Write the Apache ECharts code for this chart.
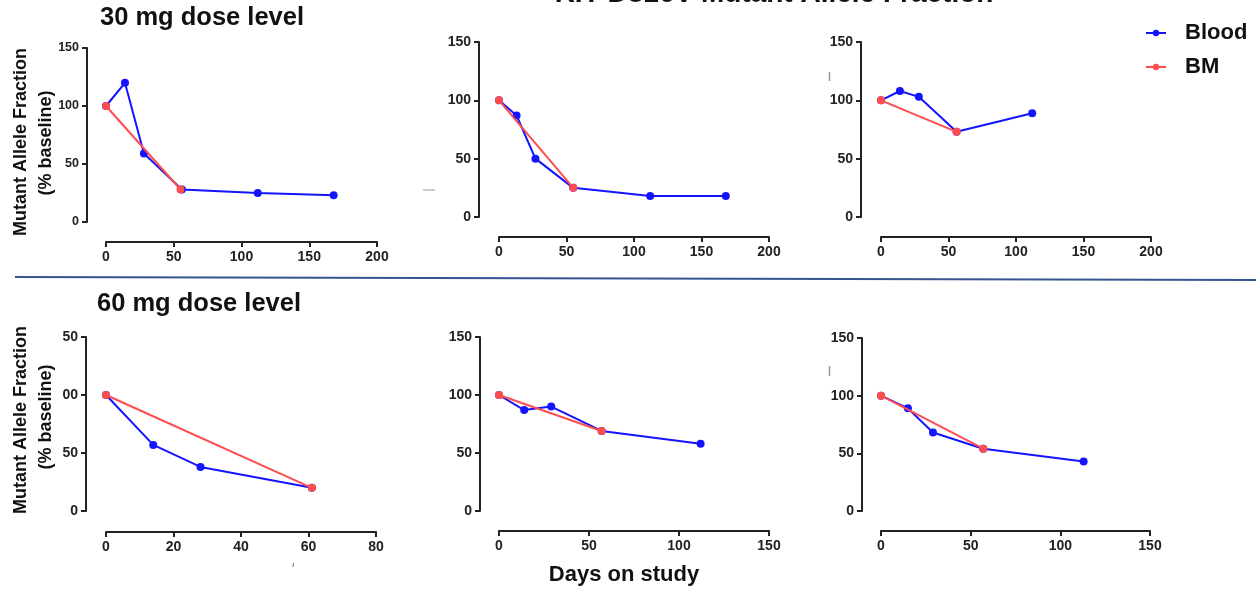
<!DOCTYPE html>
<html>
<head>
<meta charset="utf-8">
<script src="https://cdn.jsdelivr.net/npm/echarts@6/dist/echarts.min.js"></script>
<style>
html,body{margin:0;padding:0;background:#fff;}
#chart{width:1256px;height:594px;}
</style>
</head>
<body>
<div id="chart"></div>
<script>
// ---------------- DATA ----------------
const mainTitle = 'KIT D816V Mutant Allele Fraction';
const rowTitles = ['30 mg dose level', '60 mg dose level'];
const yAxisTitle = ['Mutant Allele Fraction', '(% baseline)'];
const xAxisTitle = 'Days on study';
const seriesNames = ['Blood', 'BM'];

// 30 mg, patient 1
const p1BloodDays = [0, 14, 28, 56, 112, 168];
const p1BloodMAF  = [100, 120, 59, 28, 25, 23];
const p1BMDays    = [0, 55];
const p1BMMAF     = [100, 28];
// 30 mg, patient 2
const p2BloodDays = [0, 13, 27, 55, 112, 168];
const p2BloodMAF  = [100, 87, 50, 25, 18, 18];
const p2BMDays    = [0, 55];
const p2BMMAF     = [100, 25];
// 30 mg, patient 3
const p3BloodDays = [0, 14, 28, 56, 112];
const p3BloodMAF  = [100, 108, 103, 73, 89];
const p3BMDays    = [0, 56];
const p3BMMAF     = [100, 73];
// 60 mg, patient 4
const p4BloodDays = [0, 14, 28, 61];
const p4BloodMAF  = [100, 57, 38, 20];
const p4BMDays    = [0, 61];
const p4BMMAF     = [100, 20];
// 60 mg, patient 5
const p5BloodDays = [0, 14, 29, 57, 112];
const p5BloodMAF  = [100, 87, 90, 69, 58];
const p5BMDays    = [0, 57];
const p5BMMAF     = [100, 69];
// 60 mg, patient 6
const p6BloodDays = [0, 15, 29, 57, 113];
const p6BloodMAF  = [100, 89, 68, 54, 43];
const p6BMDays    = [0, 57];
const p6BMMAF     = [100, 54];

// axis ticks
const xMaxes     = [200, 200, 200, 80, 150, 150];
const xIntervals = [50, 50, 50, 20, 50, 50];
const yTicks     = [0, 50, 100, 150];
// tick text of the lower-left panel is clipped in the original figure
const yTickTextClipped = ['0', '50', '00', '50'];

// ---------------- LAYOUT / STYLE ----------------
const FONT = 'Liberation Sans, Arial, sans-serif';
const BLUE = '#1414ff';
const RED = '#ff4d4d';
const AXIS = '#222';

const grids = [
  {left: 106, top: 48, width: 271, height: 174, xo: 20, yo: 19},
  {left: 499, top: 42, width: 270, height: 175, xo: 20, yo: 20},
  {left: 881, top: 42, width: 270, height: 175, xo: 20, yo: 20},
  {left: 106, top: 337, width: 270, height: 174, xo: 21, yo: 20},
  {left: 499, top: 337, width: 270, height: 174, xo: 20, yo: 19},
  {left: 881, top: 338, width: 269, height: 173, xo: 20, yo: 19}
];

const panels = [
  [p1BloodDays, p1BloodMAF, p1BMDays, p1BMMAF],
  [p2BloodDays, p2BloodMAF, p2BMDays, p2BMMAF],
  [p3BloodDays, p3BloodMAF, p3BMDays, p3BMMAF],
  [p4BloodDays, p4BloodMAF, p4BMDays, p4BMMAF],
  [p5BloodDays, p5BloodMAF, p5BMDays, p5BMMAF],
  [p6BloodDays, p6BloodMAF, p6BMDays, p6BMMAF]
];

const zip = (a, b) => a.map((v, i) => [v, b[i]]);

const axisCommon = {
  axisLine: {show: true, onZero: false, lineStyle: {color: AXIS, width: 2}},
  axisTick: {show: true, length: 5, lineStyle: {color: AXIS, width: 2}},
  splitLine: {show: false}
};
const labelStyle = (size) => ({color: AXIS, fontSize: size, fontWeight: 'bold', fontFamily: FONT, margin: 8});

const gridOpt = [], xAxisOpt = [], yAxisOpt = [], seriesOpt = [];
grids.forEach((g, i) => {
  gridOpt.push({left: g.left, top: g.top, width: g.width, height: g.height, containLabel: false});
  xAxisOpt.push(Object.assign({}, axisCommon, {
    type: 'value', gridIndex: i, min: 0, max: xMaxes[i], interval: xIntervals[i],
    offset: g.xo, position: 'bottom', axisLabel: labelStyle(14)
  }));
  const yl = labelStyle(i === 0 ? 12.5 : 14);
  if (i === 3) yl.formatter = v => yTickTextClipped[yTicks.indexOf(v)];
  yAxisOpt.push(Object.assign({}, axisCommon, {
    type: 'value', gridIndex: i, min: yTicks[0], max: yTicks[yTicks.length - 1], interval: 50,
    offset: g.yo, position: 'left', axisLabel: yl
  }));
  const d = panels[i];
  seriesOpt.push({
    name: seriesNames[0], type: 'line', xAxisIndex: i, yAxisIndex: i,
    data: zip(d[0], d[1]), symbol: 'circle', symbolSize: 8,
    lineStyle: {color: BLUE, width: 2}, itemStyle: {color: BLUE},
    animation: false, z: 2
  });
  seriesOpt.push({
    name: seriesNames[1], type: 'line', xAxisIndex: i, yAxisIndex: i,
    data: zip(d[2], d[3]), symbol: 'circle', symbolSize: 8,
    lineStyle: {color: RED, width: 2}, itemStyle: {color: RED},
    animation: false, z: 3
  });
});

const boldText = (text, x, y, size, opts) => Object.assign({
  type: 'text', x: x, y: y,
  style: Object.assign({text: text, fontSize: size, fontWeight: 'bold', fontFamily: FONT,
    fill: '#111', align: 'center', verticalAlign: 'middle'}, (opts && opts.style) || {})
}, (opts && opts.el) || {});

const graphics = [
  boldText(mainTitle, 774, 8, 28, {style: {verticalAlign: 'bottom'}}),
  boldText(rowTitles[0], 202, 18, 25.5),
  boldText(rowTitles[1], 199, 304, 25.5),
  boldText(yAxisTitle[0], 21, 142, 18, {el: {rotation: Math.PI / 2}}),
  boldText(yAxisTitle[1], 46, 143, 18, {el: {rotation: Math.PI / 2}}),
  boldText(yAxisTitle[0], 21, 420, 18, {el: {rotation: Math.PI / 2}}),
  boldText(yAxisTitle[1], 46, 417, 18, {el: {rotation: Math.PI / 2}}),
  boldText(xAxisTitle, 624, 575, 22),
  {type: 'line', shape: {x1: 15, y1: 277, x2: 1256, y2: 280},
   style: {stroke: '#34558f', lineWidth: 2}},
  // small stray marks present in the original figure
  {type: 'line', shape: {x1: 423, y1: 190, x2: 435, y2: 190}, style: {stroke: '#bbb', lineWidth: 1.5}},
  {type: 'line', shape: {x1: 829.5, y1: 72, x2: 829.5, y2: 81}, style: {stroke: '#999', lineWidth: 1.5}},
  {type: 'line', shape: {x1: 829.5, y1: 366, x2: 829.5, y2: 376}, style: {stroke: '#999', lineWidth: 1.5}},
  {type: 'line', shape: {x1: 293.5, y1: 563, x2: 293, y2: 567}, style: {stroke: '#777', lineWidth: 1}}
];

const chart = echarts.init(document.getElementById('chart'), null, {renderer: 'canvas'});
chart.setOption({
  backgroundColor: '#fff',
  animation: false,
  grid: gridOpt,
  xAxis: xAxisOpt,
  yAxis: yAxisOpt,
  series: seriesOpt,
  legend: {
    data: seriesNames, orient: 'vertical', left: 1140, top: 17,
    itemWidth: 20, itemHeight: 8, itemGap: 12,
    textStyle: {fontSize: 22, fontWeight: 'bold', fontFamily: FONT, color: '#111', padding: [0, 0, 0, 14]},
    selectedMode: false
  },
  graphic: graphics
});
</script>
</body>
</html>
